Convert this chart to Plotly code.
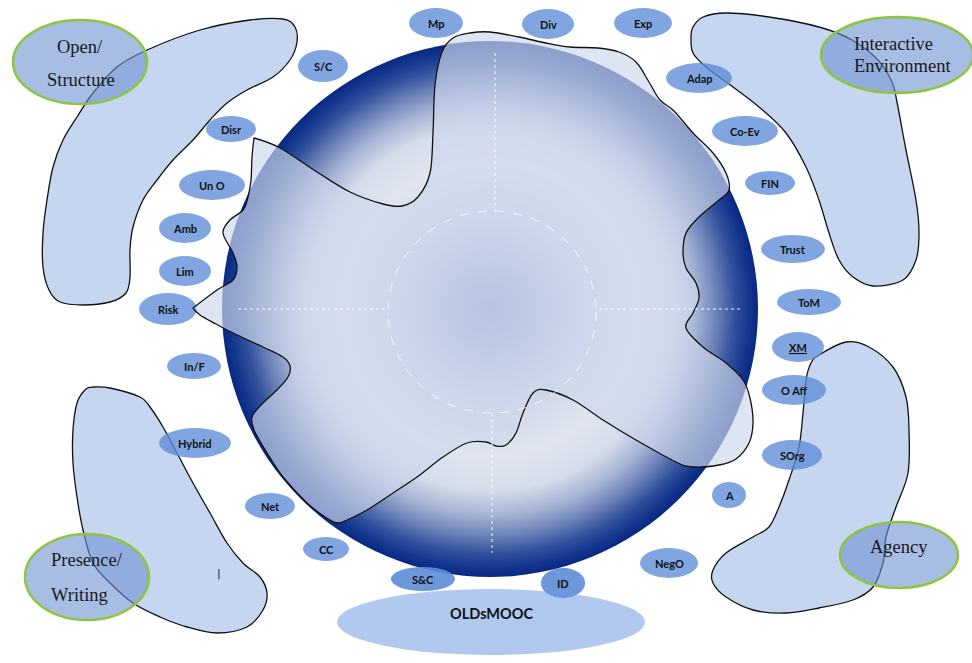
import plotly.graph_objects as go
import numpy as np

# ---------------- data ----------------
labels = ["Mp", "Div", "Exp", "S/C", "Adap", "Disr", "Co-Ev", "Un O", "FIN", "Amb",
          "Trust", "Lim", "ToM", "Risk", "XM", "In/F", "O Aff", "Hybrid", "SOrg",
          "A", "Net", "CC", "NegO", "S&C", "ID"]
themes = ["Open/<br>Structure", "Interactive<br>Environment", "Presence/<br>Writing", "Agency"]
centre_label = "OLDsMOOC"

# ---------------- layout (positions / sizes, pixel space) ----------------
label_pos = {
    "Mp": (436, 23, 27, 15), "Div": (548, 24, 26, 15), "Exp": (643, 23, 29, 15),
    "S/C": (323, 66, 25, 16), "Adap": (699, 78, 33, 15), "Disr": (231, 129, 25, 13),
    "Co-Ev": (745, 131, 33, 15), "Un O": (212, 185, 33, 15), "FIN": (770, 183, 25, 12),
    "Amb": (185, 228, 26, 15), "Trust": (793, 249, 32, 14), "Lim": (185, 271, 26, 15),
    "ToM": (809, 302, 32, 13), "Risk": (168, 309, 29, 16), "XM": (798, 347, 26, 15),
    "In/F": (194, 366, 27, 13), "O Aff": (794, 390, 32, 15), "Hybrid": (195, 443, 36, 15),
    "SOrg": (792, 455, 30, 15), "A": (729, 495, 17, 13), "Net": (270, 506, 25, 13),
    "CC": (326, 549, 23, 12), "NegO": (669, 563, 29, 15), "S&C": (423, 579, 32, 12),
    "ID": (563, 583, 22, 15),
}

theme_ell = [(80, 62, 67, 42), (897, 55, 76, 38), (87, 577, 62, 43), (899, 555, 59, 33)]

blob_tl = [(147, 50), (200, 30), (250, 20), (283, 19), (295, 27), (297, 42), (290, 60), (273, 77),
           (247, 90), (227, 103), (210, 120), (193, 140), (173, 160), (157, 180), (143, 200),
           (133, 227), (130, 250), (130, 277), (126, 293), (110, 302), (83, 305), (60, 302),
           (49, 290), (43, 267), (43, 233), (47, 200), (53, 167), (63, 140), (77, 117),
           (93, 93), (117, 67)]
blob_tr = [(693, 27), (703, 17), (726, 13), (769, 17), (819, 27), (852, 40), (878, 60),
           (892, 82), (897, 102), (906, 150), (916, 200), (919, 233), (916, 260), (903, 280),
           (873, 286), (853, 277), (839, 260), (829, 233), (819, 200), (806, 167), (786, 133),
           (759, 107), (733, 87), (706, 67), (693, 53), (691, 37)]
blob_bl = [(93, 387), (110, 388), (140, 397), (150, 407), (163, 427), (177, 453), (193, 483),
           (210, 513), (227, 543), (243, 563), (260, 577), (267, 593), (263, 610), (247, 627),
           (217, 633), (187, 627), (160, 617), (133, 603), (110, 583), (93, 563), (83, 530),
           (77, 497), (73, 463), (73, 430), (77, 403), (85, 390)]
blob_br = [(819, 355), (846, 342), (869, 347), (893, 367), (906, 397), (909, 430), (908, 473),
           (896, 507), (886, 537), (883, 563), (873, 587), (853, 600), (819, 608), (786, 613),
           (753, 610), (726, 597), (713, 583), (713, 570), (726, 553), (753, 537), (769, 527),
           (779, 507), (789, 480), (799, 447), (803, 413), (806, 380), (811, 363)]

overlay = [(193, 308), (217, 290), (233, 280), (237, 267), (233, 253), (223, 233), (230, 220),
           (243, 210), (248, 197), (251, 180), (252, 157), (254, 138), (280, 148), (317, 172),
           (350, 192), (383, 204), (402, 206), (418, 197), (430, 173), (433, 133), (435, 85),
           (442, 52), (453, 38), (470, 33), (490, 32), (519, 37), (546, 43), (570, 47),
           (598, 48), (619, 52), (636, 62), (649, 82), (660, 100), (674, 111), (693, 133),
           (713, 153), (726, 173), (729, 190), (719, 200), (699, 217), (686, 233), (683, 253),
           (686, 268), (696, 283), (699, 298), (693, 313), (686, 328), (703, 347), (726, 363),
           (743, 380), (750, 398), (753, 423), (749, 443), (736, 459), (719, 465), (693, 467),
           (676, 462), (636, 440), (603, 420), (573, 400), (546, 390), (533, 393), (523, 413),
           (516, 433), (506, 445), (496, 446), (486, 442), (467, 443), (443, 457), (417, 477),
           (393, 493), (367, 510), (347, 520), (338, 523), (328, 519), (307, 503), (283, 477),
           (267, 453), (254, 430), (252, 417), (260, 406), (277, 390), (288, 377), (290, 366),
           (283, 357), (263, 347), (233, 333), (216, 324), (200, 315)]
overlay_corners = {0, 11}

sphere_c = (490, 309)
sphere_r = 268
sphere_stops = [(0.00, (140, 155, 202)), (0.15, (163, 176, 214)), (0.35, (205, 212, 232)),
                (0.55, (224, 229, 240)), (0.68, (214, 220, 234)), (0.77, (168, 181, 213)),
                (0.85, (108, 130, 184)), (0.92, (48, 80, 156)), (0.97, (20, 55, 142)),
                (1.00, (10, 42, 132))]


def smooth_path(pts, corners=()):
    n = len(pts)
    d = "M%.1f,%.1f" % pts[0]
    for i in range(n):
        p0, p1, p2, p3 = pts[(i - 1) % n], pts[i], pts[(i + 1) % n], pts[(i + 2) % n]
        if i in corners:
            c1 = p1
        else:
            c1 = (p1[0] + (p2[0] - p0[0]) / 6, p1[1] + (p2[1] - p0[1]) / 6)
        if (i + 1) % n in corners:
            c2 = p2
        else:
            c2 = (p2[0] - (p3[0] - p1[0]) / 6, p2[1] - (p3[1] - p1[1]) / 6)
        d += " C%.1f,%.1f %.1f,%.1f %.1f,%.1f" % (c1[0], c1[1], c2[0], c2[1], p2[0], p2[1])
    return d + " Z"


def interp_color(t):
    for (t0, c0), (t1, c1) in zip(sphere_stops[:-1], sphere_stops[1:]):
        if t0 <= t <= t1:
            f = (t - t0) / (t1 - t0)
            c = [round(a + (b - a) * f) for a, b in zip(c0, c1)]
            return "rgb(%d,%d,%d)" % tuple(c)
    return "rgb(%d,%d,%d)" % sphere_stops[-1][1]


def ellipse(cx, cy, rx, ry, fill, line_color=None, line_width=0, dash=None):
    ln = dict(width=line_width, color=line_color or "rgba(0,0,0,0)")
    if dash:
        ln["dash"] = dash
    return dict(type="circle", xref="x", yref="y", x0=cx - rx, x1=cx + rx, y0=cy - ry, y1=cy + ry,
                fillcolor=fill, line=ln)


shapes = []
blob_fill = "rgb(198,214,240)"
for b in (blob_tl, blob_tr, blob_bl, blob_br):
    shapes.append(dict(type="path", path=smooth_path(b), xref="x", yref="y",
                       fillcolor=blob_fill, line=dict(color="#111", width=1.3)))

# sphere (radial gradient via concentric discs)
N = 130
for k in range(N, 0, -1):
    t = k / N
    r = sphere_r * t
    shapes.append(ellipse(sphere_c[0], sphere_c[1], r, r, interp_color(t)))

# labels
for name in labels:
    cx, cy, rx, ry = label_pos[name]
    shapes.append(ellipse(cx, cy, rx, ry, "rgba(92,140,215,0.78)"))

# wavy overlay
shapes.append(dict(type="path", path=smooth_path(overlay, overlay_corners), xref="x", yref="y",
                   fillcolor="rgba(205,215,236,0.68)", line=dict(color="#111", width=1.3)))

# dashed inner circle and dotted cross-hair
shapes.append(ellipse(492, 312, 104, 101, "rgba(0,0,0,0)", "rgba(255,255,255,0.8)", 1, "dash"))
for (x0, y0, x1, y1) in [(238, 309, 388, 309), (599, 309, 741, 309), (495, 53, 495, 212), (492, 413, 492, 553)]:
    shapes.append(dict(type="line", xref="x", yref="y", x0=x0, y0=y0, x1=x1, y1=y1,
                       line=dict(color="rgba(255,255,255,0.9)", width=1, dash="dot")))

# OLDsMOOC ellipse
shapes.append(ellipse(491, 622, 154, 33, "rgba(125,165,228,0.6)"))
# redraw S&C / ID on top for overlap tint
for name in ("S&C", "ID"):
    cx, cy, rx, ry = label_pos[name]
    shapes.append(ellipse(cx, cy, rx, ry, "rgba(92,140,215,0.55)"))

# theme ellipses
for (cx, cy, rx, ry) in theme_ell:
    shapes.append(ellipse(cx, cy, rx, ry, "rgba(110,145,210,0.6)", "rgb(140,198,63)", 2.5))

annotations = []
for name in labels:
    cx, cy, rx, ry = label_pos[name]
    txt = name.replace("&", "&amp;")
    if name == "XM":
        txt = "<span style='text-decoration:underline'>XM</span>"
    annotations.append(dict(x=cx, y=cy, xref="x", yref="y", text="<b>%s</b>" % txt, showarrow=False,
                            font=dict(family="Lato", size=11, color="#111")))

serif = dict(family="Liberation Serif", size=18.5, color="#1a1a1a")
annotations += [
    dict(x=80, y=47, text="Open/", showarrow=False, font=serif),
    dict(x=81, y=80, text="Structure", showarrow=False, font=serif),
    dict(x=852, y=44, text="Interactive", showarrow=False, font=serif, xanchor="left"),
    dict(x=852, y=66, text="Environment", showarrow=False, font=serif, xanchor="left"),
    dict(x=49, y=560, text="Presence/", showarrow=False, font=serif, xanchor="left"),
    dict(x=49, y=595, text="Writing", showarrow=False, font=serif, xanchor="left"),
    dict(x=899, y=547, text="Agency", showarrow=False, font=serif),
    dict(x=491, y=613, text="<b>%s</b>" % centre_label, showarrow=False,
         font=dict(family="Lato", size=14.5, color="#111")),
    dict(x=219, y=573, text="|", showarrow=False, font=dict(family="DejaVu Sans", size=11, color="#222")),
]
for a in annotations:
    a.setdefault("xref", "x")
    a.setdefault("yref", "y")

fig = go.Figure()
fig.add_trace(go.Scatter(x=[0, 972], y=[0, 663], mode="markers", marker=dict(opacity=0),
                         hoverinfo="skip", showlegend=False))
fig.update_layout(
    width=972, height=663, margin=dict(l=0, r=0, t=0, b=0),
    paper_bgcolor="white", plot_bgcolor="white",
    xaxis=dict(range=[0, 972], visible=False, fixedrange=True),
    yaxis=dict(range=[663, 0], visible=False, fixedrange=True),
    shapes=shapes, annotations=annotations, showlegend=False,
)
fig.write_html("out.html", config={"displayModeBar": False},
               post_script="document.body.style.margin='0';document.body.style.overflow='hidden';")
